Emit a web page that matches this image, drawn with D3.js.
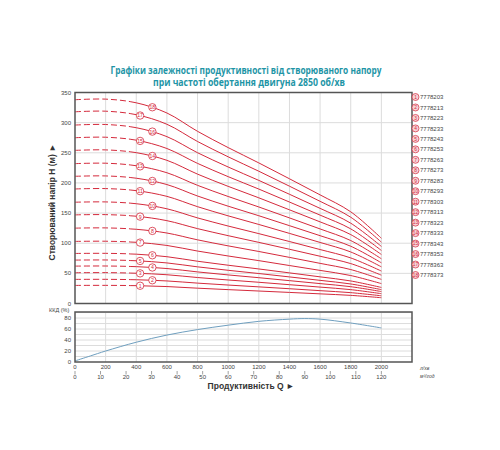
<!DOCTYPE html>
<html><head><meta charset="utf-8">
<script src="https://cdn.jsdelivr.net/npm/d3@7"></script>
<style>body{margin:0;background:#fff}svg{display:block}</style>
</head><body>
<svg id="c" width="500" height="450"></svg>
<script>
const flow = [0,200,400,600,800,1000,1200,1400,1600,1800,2000];
const heads = [
 [30,30.1,29.6,28.1,25.4,23.0,20.7,18.4,16.0,13.5,9.6],
 [40,40.1,39.4,37.4,33.8,30.6,27.6,24.5,21.3,18.0,12.8],
 [51,51.2,50.2,47.7,43.1,39.0,35.2,31.2,27.2,23.0,16.3],
 [62,62.2,61.1,58.0,52.4,47.4,42.8,37.9,33.0,27.9,19.8],
 [72,72.2,70.9,67.3,60.8,55.1,49.7,44.1,38.4,32.4,23.0],
 [83,83.2,81.8,77.6,70.1,63.5,57.3,50.8,44.2,37.4,26.6],
 [103,103.3,101.5,96.3,87.0,78.8,71.1,63.0,54.9,46.4,33.0],
 [125,125.4,123.1,116.9,105.6,95.6,86.3,76.5,66.6,56.3,40.0],
 [147,147.4,144.8,137.4,124.2,112.5,101.4,90.0,78.4,66.2,47.0],
 [168,168.5,165.5,157.1,142.0,128.5,115.9,102.8,89.5,75.6,53.8],
 [190,190.6,187.2,177.7,160.6,145.4,131.1,116.3,101.3,85.5,60.8],
 [211,211.6,207.8,197.3,178.3,161.4,145.6,129.1,112.5,95.0,67.5],
 [232,232.7,228.5,216.9,196.0,177.5,160.1,142.0,123.7,104.4,74.2],
 [254,254.8,250.2,237.5,214.6,194.3,175.3,155.4,135.4,114.3,81.3],
 [275,275.8,270.9,257.1,232.4,210.4,189.8,168.3,146.6,123.8,88.0],
 [296,296.9,291.6,276.8,250.1,226.4,204.2,181.2,157.8,133.2,94.7],
 [318,319.0,313.2,297.3,268.7,243.3,219.4,194.6,169.5,143.1,101.8],
 [338,339.0,332.9,316.0,285.6,258.6,233.2,206.9,180.2,152.1,108.2]
];
const codes = ["7778203","7778213","7778223","7778233","7778243","7778253","7778263","7778273","7778283","7778293","7778303","7778313","7778323","7778333","7778343","7778353","7778363","7778373"];
const effFlow = [0,100,200,400,600,800,1000,1200,1400,1500,1600,1800,2000];
const effValues = [2,11,20,36,49,59,67,74,78,79,78,71,62];
const headTicks = [0,50,100,150,200,250,300,350];
const effTicks = [0,20,40,60,80];
const lpmTicks = [0,200,400,600,800,1000,1200,1400,1600,1800,2000];
const m3hTicks = [0,10,20,30,40,50,60,70,80,90,100,110,120];

const svg = d3.select("#c");
const RED = "#d42a3c", GRID = "#dcdcdc", FRAME = "#555", TXT = "#444";
const FONT = "'Liberation Sans', Arial, sans-serif";

const x = d3.scaleLinear().domain([0,2200]).range([75,412]);
const y = d3.scaleLinear().domain([0,350]).range([303.5,92.5]);
const ye = d3.scaleLinear().domain([0,91]).range([362,312]);
const xm = d3.scaleLinear().domain([0,120]).range([x(0),x(2000)]);

// title
svg.append("text").attr("x",246).attr("y",73.5).attr("text-anchor","middle")
  .attr("font-family","'Open Sans', sans-serif").attr("font-weight","bold").attr("font-size",10.5)
  .attr("fill","#1e95a6").attr("textLength",271).attr("lengthAdjust","spacingAndGlyphs")
  .text("Графіки залежності продуктивності від створюваного напору");
svg.append("text").attr("x",249).attr("y",86).attr("text-anchor","middle")
  .attr("font-family","'Open Sans', sans-serif").attr("font-weight","bold").attr("font-size",10.5)
  .attr("fill","#1e95a6").attr("textLength",192).attr("lengthAdjust","spacingAndGlyphs")
  .text("при частоті обертання двигуна 2850 об/хв");

// main grid
const g = svg.append("g");
g.selectAll(".vg").data(lpmTicks.slice(1)).join("line")
  .attr("x1",d=>x(d)).attr("x2",d=>x(d)).attr("y1",y(350)).attr("y2",y(0)).attr("stroke",GRID);
g.selectAll(".hg").data(headTicks.slice(1,-1)).join("line")
  .attr("x1",x(0)).attr("x2",x(2200)).attr("y1",d=>y(d)).attr("y2",d=>y(d)).attr("stroke",GRID);
// eff grid
g.selectAll(".evg").data(lpmTicks.slice(1)).join("line")
  .attr("x1",d=>x(d)).attr("x2",d=>x(d)).attr("y1",ye(91)).attr("y2",ye(0)).attr("stroke",GRID);
g.selectAll(".ehg").data(d3.range(10,91,10)).join("line")
  .attr("x1",x(0)).attr("x2",x(2200)).attr("y1",d=>ye(d)).attr("y2",d=>ye(d)).attr("stroke",GRID);

// y axis labels
svg.selectAll(".yt").data(headTicks).join("text")
  .attr("x",71).attr("y",d=>y(d)+2).attr("text-anchor","end")
  .attr("font-family",FONT).attr("font-size",6).attr("fill",TXT).text(d=>d);
svg.selectAll(".et").data(effTicks).join("text")
  .attr("x",71).attr("y",d=>ye(d)+2).attr("text-anchor","end")
  .attr("font-family",FONT).attr("font-size",6).attr("fill",TXT).text(d=>d);
svg.append("text").attr("x",49).attr("y",312).attr("font-family",FONT).attr("font-size",5.5)
  .attr("fill",TXT).text("ККД (%)");

// x axes
svg.selectAll(".xt").data(lpmTicks).join("text")
  .attr("x",d=>x(d)).attr("y",369).attr("text-anchor","middle")
  .attr("font-family",FONT).attr("font-size",6).attr("fill",TXT).text(d=>d);
svg.selectAll(".mtl").data(m3hTicks).join("line")
  .attr("x1",d=>xm(d)).attr("x2",d=>xm(d)).attr("y1",371).attr("y2",374.5).attr("stroke","#777").attr("stroke-width",0.7);
svg.selectAll(".mt").data(m3hTicks).join("text")
  .attr("x",d=>xm(d)).attr("y",379).attr("text-anchor","middle")
  .attr("font-family",FONT).attr("font-size",6).attr("fill",TXT).text(d=>d);
svg.append("text").attr("x",420).attr("y",369.5).attr("font-family",FONT).attr("font-size",5)
  .attr("font-style","italic").attr("fill",TXT).text("л/хв");
svg.append("text").attr("x",420).attr("y",378).attr("font-family",FONT).attr("font-size",5)
  .attr("font-style","italic").attr("fill",TXT).text("м³/год");
svg.append("text").attr("x",251).attr("y",389).attr("text-anchor","middle")
  .attr("font-family",FONT).attr("font-weight","bold").attr("font-size",8.5).attr("fill","#333")
  .text("Продуктивність  Q  ►");
svg.append("text").attr("transform","translate(55,202) rotate(-90)").attr("text-anchor","middle")
  .attr("font-family",FONT).attr("font-weight","bold").attr("font-size",8.5).attr("fill","#333")
  .text("Створюваний напір H (м) ►");

// clip paths
const defs = svg.append("defs");
const splitQ = 360;
defs.append("clipPath").attr("id","cd").append("rect")
  .attr("x",x(0)).attr("y",80).attr("width",x(splitQ)-x(0)).attr("height",240);
defs.append("clipPath").attr("id","cs").append("rect")
  .attr("x",x(splitQ)).attr("y",80).attr("width",x(2200)-x(splitQ)).attr("height",240);

const line = d3.line().x((d,i)=>x(flow[i])).y(d=>y(d)).curve(d3.curveCatmullRom.alpha(0.5));
const curves = svg.append("g");
const paths = [];
heads.forEach((h,k)=>{
  curves.append("path").attr("d",line(h)).attr("fill","none").attr("stroke",RED)
    .attr("stroke-width",1).attr("stroke-dasharray","6,3").attr("clip-path","url(#cd)");
  const p = curves.append("path").attr("d",line(h)).attr("fill","none").attr("stroke",RED)
    .attr("stroke-width",1).attr("clip-path","url(#cs)");
  paths.push(p.node());
});

function pointAtX(node, tx){
  let lo=0, hi=node.getTotalLength();
  for(let i=0;i<40;i++){const m=(lo+hi)/2; const pt=node.getPointAtLength(m); if(pt.x<tx) lo=m; else hi=m;}
  return node.getPointAtLength((lo+hi)/2);
}
heads.forEach((h,k)=>{
  const n = k+1;
  const q = (n%2===1) ? 425 : 505;
  const pt = pointAtX(paths[k], x(q));
  curves.append("circle").attr("cx",pt.x).attr("cy",pt.y).attr("r",3.7)
    .attr("fill","#fff").attr("stroke",RED).attr("stroke-width",0.8);
  curves.append("text").attr("x",pt.x).attr("y",pt.y+1.9).attr("text-anchor","middle")
    .attr("font-family",FONT).attr("font-size",5.2).attr("fill",RED).text(n);
});

// efficiency
const eline = d3.line().x((d,i)=>x(effFlow[i])).y(d=>ye(d)).curve(d3.curveCatmullRom.alpha(0.5));
svg.append("path").attr("d",eline(effValues)).attr("fill","none").attr("stroke","#6f9fbf").attr("stroke-width",1);

// frames
svg.append("rect").attr("x",x(0)).attr("y",y(350)).attr("width",x(2200)-x(0)).attr("height",y(0)-y(350))
  .attr("fill","none").attr("stroke",FRAME).attr("stroke-width",1.5);
svg.append("rect").attr("x",x(0)).attr("y",ye(91)).attr("width",x(2200)-x(0)).attr("height",ye(0)-ye(91))
  .attr("fill","none").attr("stroke",FRAME).attr("stroke-width",1.5);

// legend
const lg = svg.append("g");
codes.forEach((c,k)=>{
  const yy = 97 + k*10.47;
  lg.append("circle").attr("cx",415.5).attr("cy",yy).attr("r",3.5)
    .attr("fill","#f6d3d7").attr("stroke",RED).attr("stroke-width",0.7);
  lg.append("text").attr("x",415.5).attr("y",yy+1.8).attr("text-anchor","middle")
    .attr("font-family",FONT).attr("font-size",4.8).attr("fill",RED).text(k+1);
  lg.append("text").attr("x",420).attr("y",yy+2.1).attr("font-family",FONT).attr("font-size",6)
    .attr("fill",TXT).text(c);
});
</script>
</body></html>
